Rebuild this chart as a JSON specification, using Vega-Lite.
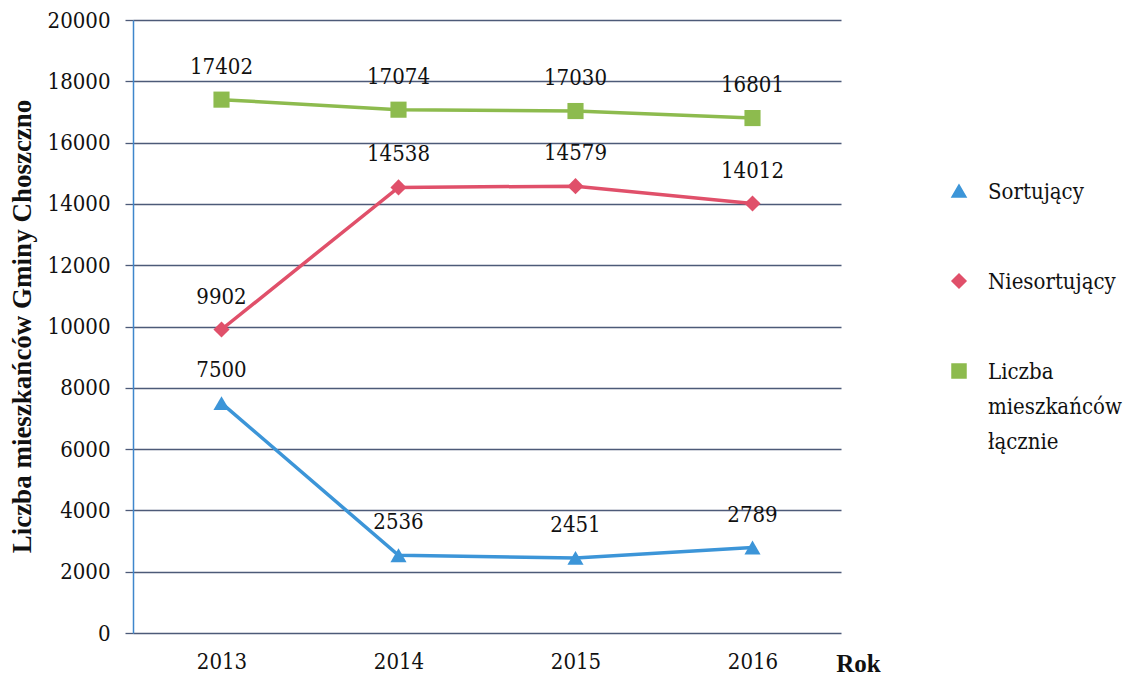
{
  "$schema": "https://vega.github.io/schema/vega-lite/v6.json",
  "autosize": {"type": "none"},
  "padding": {"left": 133, "top": 20, "right": 291, "bottom": 43},
  "width": 708,
  "height": 613,
  "background": "white",
  "config": {
    "font": "DejaVu Serif Condensed, DejaVu Serif",
    "view": {"stroke": null},
    "legend": {"padding": 0},
    "axis": {"labelFont": "DejaVu Serif Condensed, DejaVu Serif", "titleFont": "Liberation Serif"},
    "text": {"font": "DejaVu Serif Condensed, DejaVu Serif"}
  },
  "data": {
    "values": [
      {"rok": "2013", "seria": "Sortujący", "wartosc": 7500},
      {"rok": "2014", "seria": "Sortujący", "wartosc": 2536},
      {"rok": "2015", "seria": "Sortujący", "wartosc": 2451},
      {"rok": "2016", "seria": "Sortujący", "wartosc": 2789},
      {"rok": "2013", "seria": "Niesortujący", "wartosc": 9902},
      {"rok": "2014", "seria": "Niesortujący", "wartosc": 14538},
      {"rok": "2015", "seria": "Niesortujący", "wartosc": 14579},
      {"rok": "2016", "seria": "Niesortujący", "wartosc": 14012},
      {"rok": "2013", "seria": "Liczba mieszkańców łącznie", "wartosc": 17402},
      {"rok": "2014", "seria": "Liczba mieszkańców łącznie", "wartosc": 17074},
      {"rok": "2015", "seria": "Liczba mieszkańców łącznie", "wartosc": 17030},
      {"rok": "2016", "seria": "Liczba mieszkańców łącznie", "wartosc": 16801}
    ]
  },
  "encoding": {
    "x": {
      "field": "rok", "type": "ordinal",
      "scale": {"type": "point", "padding": 0.5},
      "axis": {
        "title": "Rok", "titleX": 725, "titleY": 30, "titleAlign": "center", "titleBaseline": "middle",
        "titleFont": "Liberation Serif", "titleFontSize": 25, "titleFontWeight": "bold", "titleColor": "#111",
        "labelAngle": 0, "labelFontSize": 22, "labelColor": "#111", "labelPadding": 18,
        "domain": false, "ticks": false, "grid": false
      }
    },
    "y": {
      "field": "wartosc", "type": "quantitative",
      "scale": {"domain": [0, 20000], "nice": false},
      "axis": {
        "title": "Liczba  mieszkańców Gminy Choszczno",
        "titleX": -111, "titleY": 306, "titleAngle": 270, "titleAlign": "center", "titleBaseline": "middle",
        "titleFont": "Liberation Serif", "titleFontSize": 27, "titleFontWeight": "bold", "titleColor": "#111",
        "values": [0, 2000, 4000, 6000, 8000, 10000, 12000, 14000, 16000, 18000, 20000],
        "format": "d",
        "labelFontSize": 22, "labelColor": "#111", "labelPadding": 15,
        "grid": true, "gridColor": "#4d5a78", "gridWidth": 1.3,
        "ticks": true, "tickColor": "#4d5a78", "tickSize": 8, "tickWidth": 1.3,
        "domain": true, "domainColor": "#3f86cc", "domainWidth": 1.5
      }
    }
  },
  "layer": [
    {
      "mark": {"type": "line", "strokeWidth": 3.5},
      "encoding": {
        "color": {
          "field": "seria", "type": "nominal",
          "scale": {
            "domain": ["Sortujący", "Niesortujący", "Liczba mieszkańców łącznie"],
            "range": ["#3c95d8", "#e0506a", "#8dbb4e"]
          },
          "legend": {
            "title": null,
            "orient": "none",
            "legendX": 815,
            "legendY": 160,
            "symbolSize": 196,
            "labelOffset": 18,
            "labelFontSize": 22,
            "labelColor": "#111",
            "labelLimit": 300,
            "labelBaseline": "alphabetic",
            "rowPadding": 67,
            "labelExpr": "datum.label == 'Liczba mieszkańców łącznie' ? ['Liczba', 'mieszkańców', 'łącznie'] : datum.label",
            "encode": {
              "labels": {
                "update": {
                  "dy": {"value": 8},
                  "lineHeight": {"value": 35}
                }
              }
            }
          }
        }
      }
    },
    {
      "mark": {"type": "point", "filled": true, "opacity": 1, "size": 260},
      "encoding": {
        "color": {"field": "seria", "type": "nominal", "legend": null},
        "shape": {
          "field": "seria", "type": "nominal",
          "scale": {
            "domain": ["Sortujący", "Niesortujący", "Liczba mieszkańców łącznie"],
            "range": ["triangle-up", "diamond", "square"]
          },
          "legend": null
        }
      }
    },
    {
      "mark": {"type": "text", "dy": -33, "fontSize": 22, "color": "#111", "baseline": "middle"},
      "encoding": {
        "text": {"field": "wartosc", "type": "quantitative", "format": "d"}
      }
    }
  ]
}
